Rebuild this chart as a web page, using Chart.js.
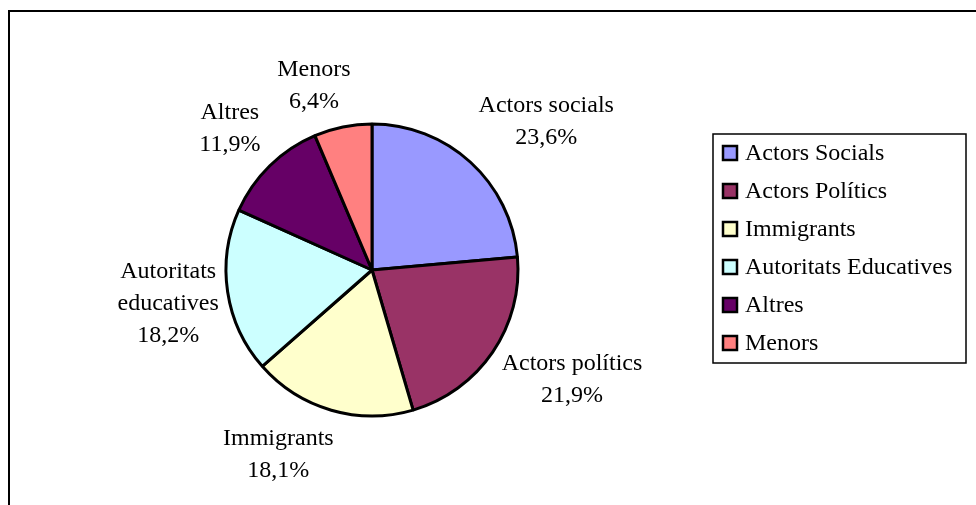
<!DOCTYPE html>
<html>
<head>
<meta charset="utf-8">
<script src="https://cdn.jsdelivr.net/npm/chart.js@4/dist/chart.umd.min.js"></script>
<style>
    html, body { margin: 0; padding: 0; background: #fff; overflow: hidden; }
    #wrap { position: relative; width: 976px; height: 505px; }
    #frame {
        position: absolute; left: 8px; top: 10px; width: 1000px; height: 600px;
        border-top: 2px solid #000; border-left: 2px solid #000;
    }
    #pie { position: absolute; left: 0; top: 0; }
</style>
</head>
<body>
<div id="wrap">
    <div id="frame"></div>
    <canvas id="pie" width="976" height="505"></canvas>
</div>
<script>
    "use strict";

    // data
    const legendLabels = ['Actors Socials', 'Actors Polítics', 'Immigrants', 'Autoritats Educatives', 'Altres', 'Menors'];
    const sliceLabels = ['Actors socials', 'Actors polítics', 'Immigrants', 'Autoritats\neducatives', 'Altres', 'Menors'];
    const shares = [23.6, 21.9, 18.1, 18.2, 11.9, 6.4];
    const sliceColors = ['#9999ff', '#993366', '#ffffcc', '#ccffff', '#660066', '#ff8080'];

    // label placement tweaks (px) relative to a point just outside each slice
    const labelNudge = [[42, -4], [38, -1], [-39, -4], [-10, 5], [-5, -1], [-19, 8]];

    const FONT = '24px "Liberation Serif", "Times New Roman", serif';
    const LINE_H = 32;

    function fmtPct(v) {
        return v.toFixed(1).replace('.', ',') + '%';
    }

    const sliceLabelPlugin = {
        id: 'sliceLabels',
        afterDraw(chart) {
            const ctx = chart.ctx;
            const meta = chart.getDatasetMeta(0);
            ctx.save();
            ctx.font = FONT;
            ctx.fillStyle = '#000';
            ctx.textAlign = 'center';
            ctx.textBaseline = 'middle';
            meta.data.forEach(function (arc, i) {
                const p = arc.getProps(['x', 'y', 'startAngle', 'endAngle', 'outerRadius'], true);
                const mid = (p.startAngle + p.endAngle) / 2;
                const d = p.outerRadius + 50;
                const cx = p.x + Math.cos(mid) * d + labelNudge[i][0];
                const cy = p.y + Math.sin(mid) * d + labelNudge[i][1];
                const lines = sliceLabels[i].split('\n').concat([fmtPct(shares[i])]);
                const top = cy - (lines.length - 1) * LINE_H / 2;
                lines.forEach(function (line, k) {
                    ctx.fillText(line, cx, top + k * LINE_H);
                });
            });
            ctx.restore();
        },
    };

    const boxLegendPlugin = {
        id: 'boxLegend',
        afterDraw(chart) {
            const ctx = chart.ctx;
            const box = { x: 713, y: 134, w: 253, h: 229 };
            ctx.save();
            ctx.lineWidth = 1.5;
            ctx.strokeStyle = '#000';
            ctx.strokeRect(box.x, box.y, box.w, box.h);
            ctx.font = FONT;
            ctx.textBaseline = 'middle';
            ctx.textAlign = 'left';
            legendLabels.forEach(function (name, i) {
                const cy = box.y + 19 + i * 38;
                ctx.fillStyle = sliceColors[i];
                ctx.fillRect(723, cy - 7, 14, 14);
                ctx.lineWidth = 2.5;
                ctx.strokeStyle = '#000';
                ctx.strokeRect(723, cy - 7, 14, 14);
                ctx.fillStyle = '#000';
                ctx.fillText(name, 745, cy + 1);
            });
            ctx.restore();
        },
    };

    const ctx = document.getElementById('pie').getContext('2d');
    new Chart(ctx, {
        type: 'pie',
        data: {
            labels: legendLabels,
            datasets: [{
                data: shares,
                backgroundColor: sliceColors,
                borderColor: '#000',
                borderWidth: 3,
            }],
        },
        options: {
            responsive: false,
            animation: false,
            layout: { padding: { left: 224.5, right: 456.5, top: 122.5, bottom: 87.5 } },
            plugins: {
                legend: { display: false },
                tooltip: { enabled: false },
            },
        },
        plugins: [sliceLabelPlugin, boxLegendPlugin],
    });
</script>
</body>
</html>
